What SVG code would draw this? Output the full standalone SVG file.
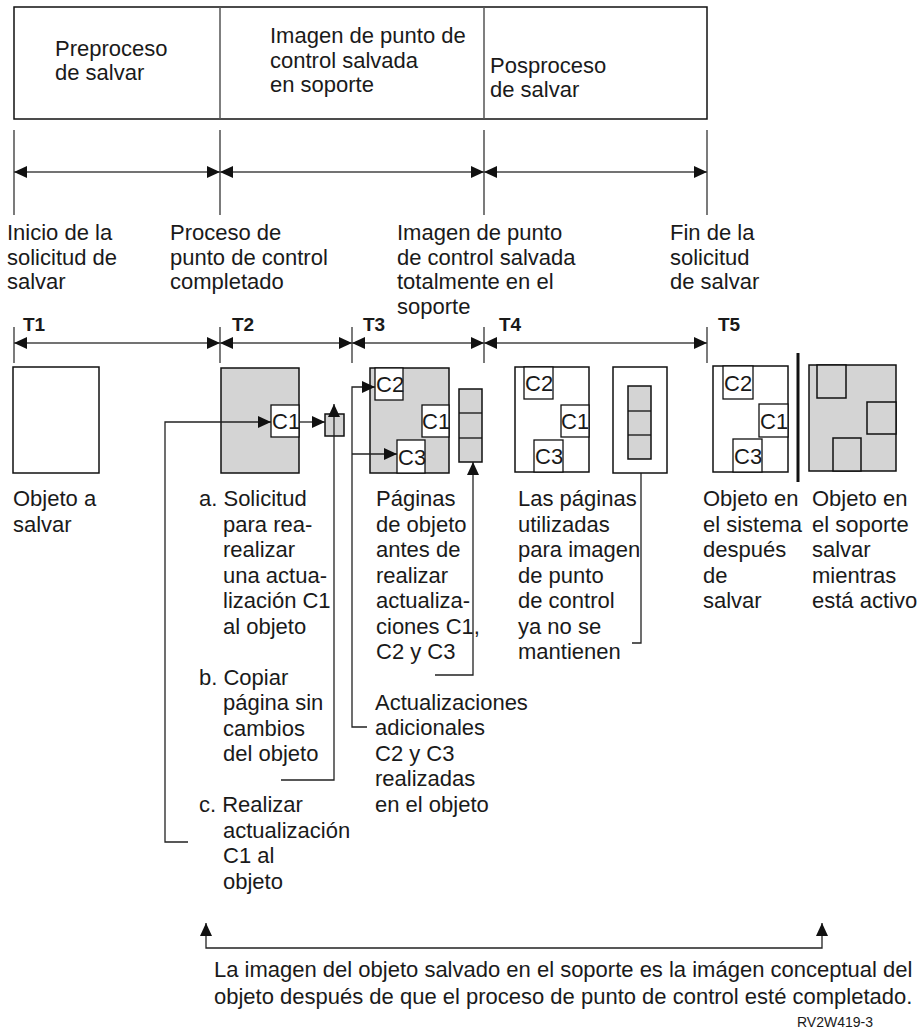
<svg xmlns="http://www.w3.org/2000/svg" width="922" height="1033" viewBox="0 0 922 1033">
<defs>
<style>
text{font-family:"Liberation Sans",Arial,sans-serif;font-size:22px;fill:#1a1a1a}
.b{font-weight:bold;font-size:19px}
.sm{font-size:14px}
.box{fill:#fff;stroke:#111;stroke-width:1.5}
.g{fill:#d4d4d4;stroke:#111;stroke-width:1.5}
.w{fill:#fff;stroke:#111;stroke-width:1.3}
.div{stroke:#555;stroke-width:1.5}
.tick{stroke:#333;stroke-width:1.3}
.ar{stroke:#444;stroke-width:1.5;fill:none;marker-start:url(#ah);marker-end:url(#ah)}
.cn{stroke:#222;stroke-width:1.3;fill:none}
.ce{marker-end:url(#ah)}
</style>
<marker id="ah" viewBox="0 0 13 12" refX="13" refY="6" markerWidth="13" markerHeight="12" markerUnits="userSpaceOnUse" orient="auto-start-reverse">
<path d="M0,0 L13,6 L0,12 z" fill="#111"/>
</marker>
</defs>

<g id="phase-box">
<rect class="box" x="14" y="7" width="693" height="112"/>
<line class="div" x1="220" y1="7" x2="220" y2="119"/>
<line class="div" x1="484" y1="7" x2="484" y2="119"/>
<text x="55" y="56">Preproceso</text>
<text x="55" y="80">de salvar</text>
<text x="270" y="43">Imagen de punto de</text>
<text x="270" y="67.5">control salvada</text>
<text x="270" y="92">en soporte</text>
<text x="490" y="73">Posproceso</text>
<text x="490" y="97">de salvar</text>
</g>

<g id="timeline-top">
<line class="tick" x1="14" y1="130" x2="14" y2="215"/>
<line class="tick" x1="220" y1="130" x2="220" y2="215"/>
<line class="tick" x1="484" y1="130" x2="484" y2="215"/>
<line class="tick" x1="707" y1="130" x2="707" y2="215"/>
<line class="ar" x1="14" y1="172" x2="220" y2="172"/>
<line class="ar" x1="220" y1="172" x2="484" y2="172"/>
<line class="ar" x1="484" y1="172" x2="707" y2="172"/>
</g>

<g id="event-labels">
<text x="7" y="240">Inicio de la</text>
<text x="7" y="264.5">solicitud de</text>
<text x="7" y="289">salvar</text>
<text x="170" y="240">Proceso de</text>
<text x="170" y="264.5">punto de control</text>
<text x="170" y="289">completado</text>
<text x="397" y="240">Imagen de punto</text>
<text x="397" y="264.5">de control salvada</text>
<text x="397" y="289">totalmente en el</text>
<text x="397" y="313.5">soporte</text>
<text x="670" y="240">Fin de la</text>
<text x="670" y="264.5">solicitud</text>
<text x="670" y="289">de salvar</text>
</g>

<g id="timeline-t">
<text class="b" x="23" y="331">T1</text>
<text class="b" x="232" y="331">T2</text>
<text class="b" x="363" y="331">T3</text>
<text class="b" x="499" y="331">T4</text>
<text class="b" x="718" y="331">T5</text>
<line class="tick" x1="14" y1="327" x2="14" y2="363"/>
<line class="tick" x1="220" y1="327" x2="220" y2="363"/>
<line class="tick" x1="352" y1="327" x2="352" y2="363"/>
<line class="tick" x1="484" y1="327" x2="484" y2="363"/>
<line class="tick" x1="707" y1="327" x2="707" y2="363"/>
<line class="ar" x1="14" y1="343" x2="220" y2="343"/>
<line class="ar" x1="220" y1="343" x2="352" y2="343"/>
<line class="ar" x1="352" y1="343" x2="484" y2="343"/>
<line class="ar" x1="484" y1="343" x2="707" y2="343"/>
</g>

<g id="obj-t1">
<rect class="box" x="13" y="367" width="86" height="106"/>
<text x="13" y="506">Objeto a</text>
<text x="13" y="531.5">salvar</text>
</g>

<g id="obj-t2">
<rect class="g" x="221" y="368" width="78" height="105"/>
<rect class="w" x="271" y="405" width="28" height="32"/>
<text x="272" y="429">C1</text>
</g>

<g id="copy-page">
<rect class="g" x="325" y="414" width="19" height="22"/>
</g>

<g id="text-t2">
<text x="199" y="506">a. Solicitud</text>
<text x="223" y="531.5">para rea-</text>
<text x="223" y="557">realizar</text>
<text x="223" y="582.5">una actua-</text>
<text x="223" y="608">lización C1</text>
<text x="223" y="633.5">al objeto</text>
<text x="199" y="684.5">b. Copiar</text>
<text x="223" y="710">página sin</text>
<text x="223" y="735.5">cambios</text>
<text x="223" y="761">del objeto</text>
<text x="199" y="812">c. Realizar</text>
<text x="223" y="837.5">actualización</text>
<text x="223" y="863">C1 al</text>
<text x="223" y="888.5">objeto</text>
</g>

<g id="obj-t3">
<rect class="g" x="370" y="368" width="79" height="105"/>
<rect class="w" x="375" y="368" width="28" height="32"/>
<text x="376" y="392">C2</text>
<rect class="w" x="422" y="405" width="27" height="32"/>
<text x="422" y="429">C1</text>
<rect class="w" x="397" y="440" width="28" height="33"/>
<text x="398" y="465">C3</text>
</g>

<g id="stack-t3">
<rect class="g" x="459" y="389" width="23" height="73"/>
<line class="w" x1="459" y1="413" x2="482" y2="413"/>
<line class="w" x1="459" y1="438" x2="482" y2="438"/>
</g>

<g id="text-t3">
<text x="376" y="506">Páginas</text>
<text x="376" y="531.5">de objeto</text>
<text x="376" y="557">antes de</text>
<text x="376" y="582.5">realizar</text>
<text x="376" y="608">actualiza-</text>
<text x="376" y="633.5">ciones C1,</text>
<text x="376" y="659">C2 y C3</text>
<text x="375" y="709.5">Actualizaciones</text>
<text x="375" y="735">adicionales</text>
<text x="375" y="760.5">C2 y C3</text>
<text x="375" y="786">realizadas</text>
<text x="375" y="811.5">en el objeto</text>
</g>

<g id="obj-t4">
<rect class="box" x="515" y="367" width="74" height="105"/>
<rect class="w" x="524" y="367" width="29" height="32"/>
<text x="525" y="391">C2</text>
<rect class="w" x="561" y="405" width="28" height="32"/>
<text x="561" y="429">C1</text>
<rect class="w" x="534" y="440" width="29" height="32"/>
<text x="535" y="464">C3</text>
</g>

<g id="pages-t4">
<rect class="box" x="613" y="367" width="54" height="106"/>
<rect class="g" x="628" y="386" width="23" height="73"/>
<line class="w" x1="628" y1="411" x2="651" y2="411"/>
<line class="w" x1="628" y1="435" x2="651" y2="435"/>
</g>

<g id="text-t4">
<text x="518" y="506">Las páginas</text>
<text x="518" y="531.5">utilizadas</text>
<text x="518" y="557">para imagen</text>
<text x="518" y="582.5">de punto</text>
<text x="518" y="608">de control</text>
<text x="518" y="633.5">ya no se</text>
<text x="518" y="659">mantienen</text>
</g>

<g id="obj-t5">
<rect class="box" x="713" y="366" width="75" height="106"/>
<rect class="w" x="723" y="366" width="30" height="33"/>
<text x="724" y="391">C2</text>
<rect class="w" x="759" y="404" width="29" height="33"/>
<text x="760" y="429">C1</text>
<rect class="w" x="733" y="439" width="29" height="33"/>
<text x="734" y="464">C3</text>
<text x="703" y="506">Objeto en</text>
<text x="703" y="531.5">el sistema</text>
<text x="703" y="557">después</text>
<text x="703" y="582.5">de</text>
<text x="703" y="608">salvar</text>
</g>

<g id="separator">
<line x1="798" y1="353" x2="798" y2="482" stroke="#111" stroke-width="3"/>
</g>

<g id="obj-media">
<rect class="g" x="809" y="365" width="87" height="106"/>
<rect class="g" x="817" y="365" width="29" height="33"/>
<rect class="g" x="867" y="402" width="29" height="32"/>
<rect class="g" x="833" y="438" width="28" height="33"/>
<text x="812" y="506">Objeto en</text>
<text x="812" y="531.5">el soporte</text>
<text x="812" y="557">salvar</text>
<text x="812" y="582.5">mientras</text>
<text x="812" y="608">está activo</text>
</g>

<g id="connectors">
<polyline class="cn ce" points="188,842 165,842 165,422 271,422"/>
<line class="cn ce" x1="299" y1="422" x2="325" y2="422"/>
<polyline class="cn ce" points="281,780 334,780 334,404"/>
<polyline class="cn ce" points="367,727 352,727 352,387 375,387"/>
<line class="cn ce" x1="352" y1="454" x2="397" y2="454"/>
<polyline class="cn ce" points="435,675 473,675 473,462"/>
<polyline class="cn" points="641,473 641,643 632,643"/>
<polyline class="cn" points="206,923 206,948 822,948 822,923" style="marker-start:url(#ah);marker-end:url(#ah)"/>
</g>

<g id="caption">
<text x="214" y="977">La imagen del objeto salvado en el soporte es la imágen conceptual del</text>
<text x="214" y="1004">objeto después de que el proceso de punto de control esté completado.</text>
<text class="sm" x="797" y="1027">RV2W419-3</text>
</g>
</svg>
